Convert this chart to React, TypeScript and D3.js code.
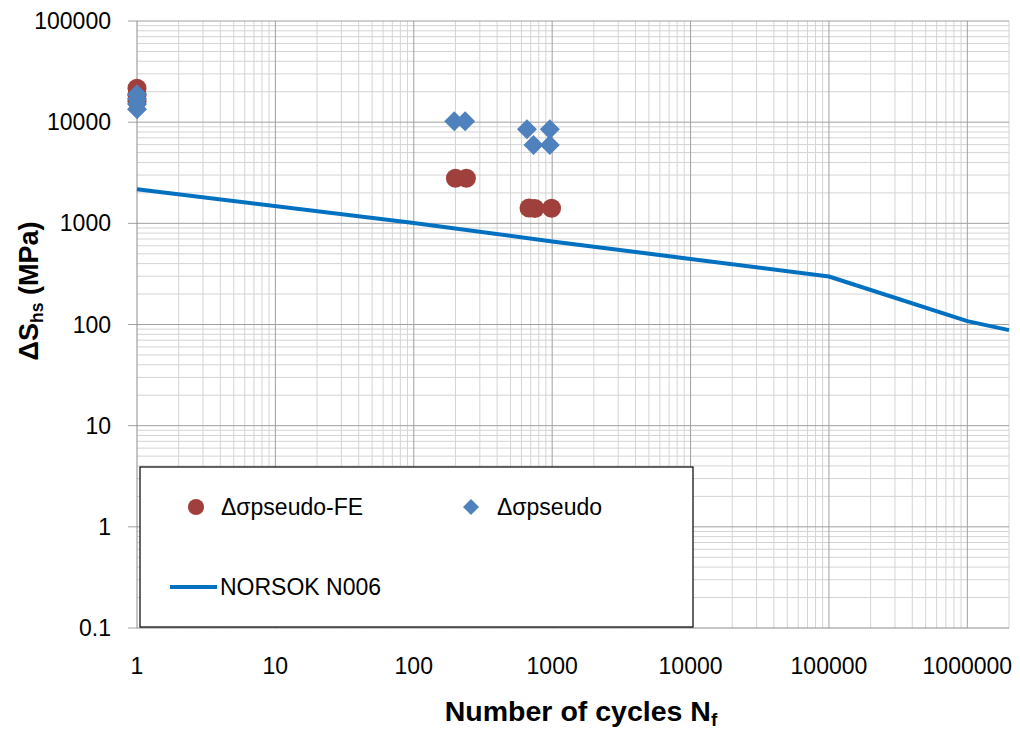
import React from "react";
import * as d3 from "d3";

const W = 1020;
const H = 731;

// Series data
const feCycles = [1, 1, 1, 200, 240, 680, 750, 990];
const feStress = [21700, 18500, 16100, 2790, 2790, 1420, 1400, 1410];

const pseudoCycles = [1, 1, 1, 1, 196, 235, 657, 733, 962, 962];
const pseudoStress = [18900, 16900, 15100, 13450, 10200, 10200, 8500, 5960, 8500, 5960];

const norsokCycles = [1, 100, 1000, 10000, 100000, 1000000, 2000000];
const norsokStress = [2170, 1010, 662, 445, 298, 108, 88];

const xTickValues = [1, 10, 100, 1000, 10000, 100000, 1000000];
const yTickValues = [0.1, 1, 10, 100, 1000, 10000, 100000];

const legendLabels = ["Δσpseudo-FE", "Δσpseudo", "NORSOK N006"];

const FONT = "'Liberation Sans', Arial, sans-serif";
const RED = "#A0403C";
const BLUE = "#4F81BD";
const LINE = "#0070C0";

export default function App() {
  const x = d3.scaleLog().domain([1, 2000000]).range([137, 1009]);
  const y = d3.scaleLog().domain([0.1, 100000]).range([628, 21]);

  const xGrid: { v: number; major: boolean }[] = [];
  for (let e = 0; e <= 6; e++) {
    for (let k = 1; k <= 9; k++) {
      const v = k * Math.pow(10, e);
      if (v <= 2000000 && v > 1) xGrid.push({ v, major: k === 1 });
    }
  }
  const yGrid: { v: number; major: boolean }[] = [];
  for (let e = -1; e <= 5; e++) {
    for (let k = 1; k <= 9; k++) {
      const v = k * Math.pow(10, e);
      if (v <= 100000 && v > 0.1 + 1e-9) yGrid.push({ v, major: k === 1 });
    }
  }

  const line = d3
    .line<number>()
    .x((_, i) => x(norsokCycles[i]))
    .y((d) => y(d));

  const diamond = (cx: number, cy: number, r: number) =>
    `M${cx},${cy - r}L${cx + r},${cy}L${cx},${cy + r}L${cx - r},${cy}Z`;

  const fmt = (v: number) => (v < 1 ? String(v) : d3.format("d")(v));

  return (
    <svg
      width={W}
      height={H}
      style={{ position: "absolute", left: 0, top: 0, background: "#fff" }}
      fontFamily={FONT}
    >
      <rect x={0} y={0} width={W} height={H} fill="#fff" />
      {/* minor grid */}
      {xGrid.filter((g) => !g.major).map((g, i) => (
        <line key={"xm" + i} x1={x(g.v)} x2={x(g.v)} y1={y(100000)} y2={y(0.1)} stroke="#d4d4d4" strokeWidth={1} />
      ))}
      {yGrid.filter((g) => !g.major).map((g, i) => (
        <line key={"ym" + i} x1={x(1)} x2={x(2000000)} y1={y(g.v)} y2={y(g.v)} stroke="#d4d4d4" strokeWidth={1} />
      ))}
      {/* major grid */}
      {xGrid.filter((g) => g.major).map((g, i) => (
        <line key={"xM" + i} x1={x(g.v)} x2={x(g.v)} y1={y(100000)} y2={y(0.1)} stroke="#a0a0a0" strokeWidth={1} />
      ))}
      {yGrid.filter((g) => g.major).map((g, i) => (
        <line key={"yM" + i} x1={x(1) - 9} x2={x(2000000)} y1={y(g.v)} y2={y(g.v)} stroke="#a0a0a0" strokeWidth={1} />
      ))}
      <line x1={x(1) - 9} x2={x(1)} y1={y(0.1)} y2={y(0.1)} stroke="#a0a0a0" />
      {/* axes */}
      <line x1={x(1)} x2={x(1)} y1={y(100000)} y2={y(0.1)} stroke="#8c8c8c" strokeWidth={1} />
      <line x1={x(1)} x2={x(2000000)} y1={y(0.1)} y2={y(0.1)} stroke="#8c8c8c" strokeWidth={1} />

      {/* tick labels */}
      {yTickValues.map((v) => (
        <text key={"yl" + v} x={111} y={y(v)} dy="0.35em" textAnchor="end" fontSize={23} fill="#000">
          {fmt(v)}
        </text>
      ))}
      {xTickValues.map((v) => (
        <text key={"xl" + v} x={x(v)} y={674} textAnchor="middle" fontSize={23} fill="#000">
          {fmt(v)}
        </text>
      ))}

      {/* NORSOK line */}
      <path d={line(norsokStress) || ""} fill="none" stroke={LINE} strokeWidth={4} strokeLinejoin="round" />

      {/* FE series */}
      {feStress.map((s, i) => (
        <circle key={"fe" + i} cx={x(feCycles[i])} cy={y(s)} r={9.5} fill={RED} />
      ))}
      {/* pseudo series */}
      {pseudoStress.map((s, i) => (
        <path key={"ps" + i} d={diamond(x(pseudoCycles[i]), y(s), 10)} fill={BLUE} />
      ))}

      {/* legend */}
      <rect x={140} y={467} width={553} height={160} fill="#fff" stroke="#000" strokeWidth={1.2} />
      <circle cx={196} cy={507} r={8} fill={RED} />
      <text x={221} y={507} dy="0.35em" fontSize={23} fill="#000">{legendLabels[0]}</text>
      <path d={diamond(471, 507, 8)} fill={BLUE} />
      <text x={497} y={507} dy="0.35em" fontSize={23} fill="#000">{legendLabels[1]}</text>
      <line x1={170} x2={217} y1={587} y2={587} stroke={LINE} strokeWidth={4} />
      <text x={220} y={587} dy="0.35em" fontSize={23} fill="#000">{legendLabels[2]}</text>

      {/* axis titles */}
      <text x={581} y={721} textAnchor="middle" fontSize={28.5} fontWeight="bold" fill="#000">
        Number of cycles N
        <tspan fontSize={19} dy={5}>f</tspan>
      </text>
      <text
        transform="translate(38,291) rotate(-90)"
        textAnchor="middle"
        fontSize={27}
        fontWeight="bold"
        fill="#000"
      >
        ΔS
        <tspan fontSize={17.5} dy={5}>hs</tspan>
        <tspan dy={-5}> (MPa)</tspan>
      </text>
    </svg>
  );
}
